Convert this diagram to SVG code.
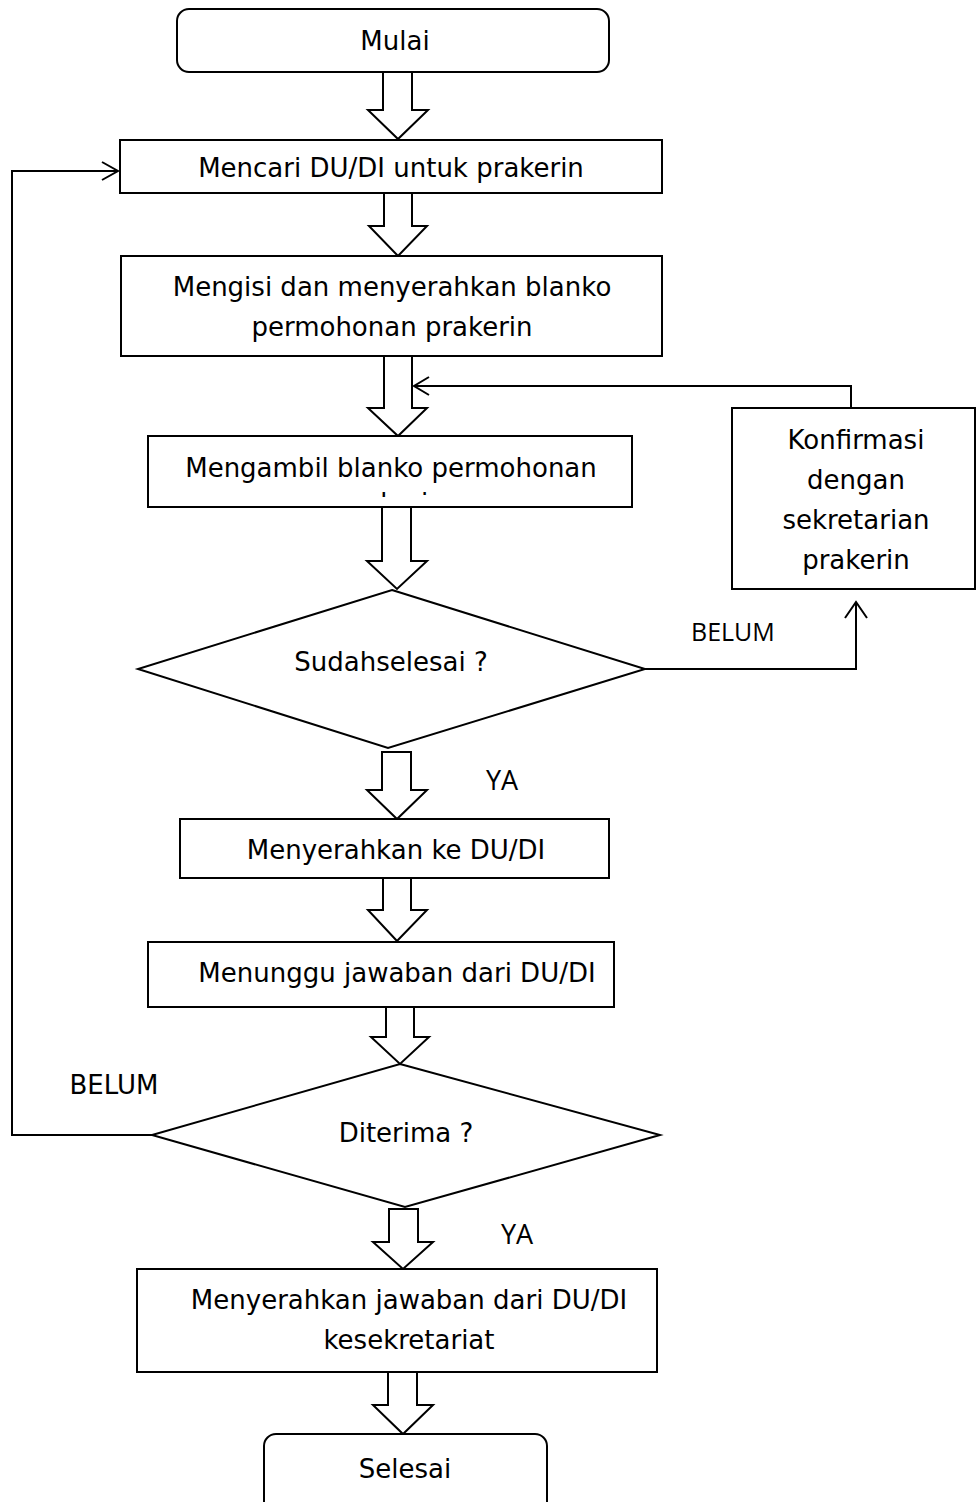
<svg xmlns="http://www.w3.org/2000/svg" width="976" height="1502" viewBox="0 0 976 1502">
<defs>
<style>
.s{fill:#fff;stroke:#000;stroke-width:2}
.c{fill:none;stroke:#000;stroke-width:2}
.t{font-family:"DejaVu Sans",sans-serif;font-size:26px;text-anchor:middle;fill:#000}
.l{font-family:"Open Sans",sans-serif;font-size:25px;fill:#000}
.y{font-family:"Open Sans",sans-serif;font-size:27px;fill:#000}
</style>
<clipPath id="clipA"><rect x="148" y="436" width="484" height="61"/></clipPath>
</defs>
<rect width="976" height="1502" fill="#fff"/>
<g id="connectors">
<polygon class="s" points="383,72 383,110 368,110 398,139 428,110 412,110 412,72"/>
<polygon class="s" points="384,193 384,226 369,226 398,256 427,226 412,226 412,193"/>
<polygon class="s" points="384,356 384,408 368,408 398,436 427,408 412,408 412,356"/>
<polygon class="s" points="382,507 382,561 367,561 397,589 427,561 411,561 411,507"/>
<polygon class="s" points="382,752 382,790 367,790 397,819 427,790 411,790 411,752"/>
<polygon class="s" points="383,878 383,910 368,910 397,941 427,910 411,910 411,878"/>
<polygon class="s" points="386,1007 386,1037 371,1037 400,1064 429,1037 414,1037 414,1007"/>
<polygon class="s" points="389,1209 389,1242 373,1242 403,1269 433,1242 418,1242 418,1209"/>
<polygon class="s" points="388,1372 388,1405 373,1405 403,1434 433,1405 417,1405 417,1372"/>
<polyline class="c" points="152,1135 12,1135 12,171 118,171"/>
<path class="c" d="M102,162 L118,171 L102,180"/>
<polyline class="c" points="851,408 851,386 414,386"/>
<path class="c" d="M429,377 L414,386 L429,395"/>
<polyline class="c" points="645,669 856,669 856,602"/>
<path class="c" d="M845,618 L856,602 L867,618"/>
<text class="l" x="691" y="641">BELUM</text>
<text class="t" x="114" y="1094">BELUM</text>
<text class="y" x="486" y="790">YA</text>
<text class="y" x="501" y="1244">YA</text>
</g>
<g id="mulai">
<rect class="s" x="177" y="9" width="432" height="63" rx="12"/>
<text class="t" x="395" y="50">Mulai</text>
</g>
<g id="mencari">
<rect class="s" x="120" y="140" width="542" height="53"/>
<text class="t" x="391" y="177">Mencari DU/DI untuk prakerin</text>
</g>
<g id="mengisi">
<rect class="s" x="121" y="256" width="541" height="100"/>
<text class="t" x="392" y="296">Mengisi dan menyerahkan blanko</text>
<text class="t" x="392" y="336">permohonan prakerin</text>
</g>
<g id="mengambil">
<rect class="s" x="148" y="436" width="484" height="71"/>
<text class="t" x="391" y="477">Mengambil blanko permohonan</text>
<text class="t" x="391" y="512" clip-path="url(#clipA)">prakerin</text>
</g>
<g id="konfirmasi">
<rect class="s" x="732" y="408" width="243" height="181"/>
<text class="t" x="856" y="449">Konfirmasi</text>
<text class="t" x="856" y="489">dengan</text>
<text class="t" x="856" y="529">sekretarian</text>
<text class="t" x="856" y="569">prakerin</text>
</g>
<g id="sudah">
<polygon class="s" points="392,590 645,669 388,748 138,669"/>
<text class="t" x="391" y="671">Sudahselesai ?</text>
</g>
<g id="menyerahkan">
<rect class="s" x="180" y="819" width="429" height="59"/>
<text class="t" x="396" y="859">Menyerahkan ke DU/DI</text>
</g>
<g id="menunggu">
<rect class="s" x="148" y="942" width="466" height="65"/>
<text class="t" x="397" y="982">Menunggu jawaban dari DU/DI</text>
</g>
<g id="diterima">
<polygon class="s" points="400,1064 660,1135 405,1207 152,1135"/>
<text class="t" x="406" y="1142">Diterima ?</text>
</g>
<g id="menyerahkan2">
<rect class="s" x="137" y="1269" width="520" height="103"/>
<text class="t" x="409" y="1309">Menyerahkan jawaban dari DU/DI</text>
<text class="t" x="409" y="1349">kesekretariat</text>
</g>
<g id="selesai">
<rect class="s" x="264" y="1434" width="283" height="80" rx="12"/>
<text class="t" x="405" y="1478">Selesai</text>
</g>
</svg>
